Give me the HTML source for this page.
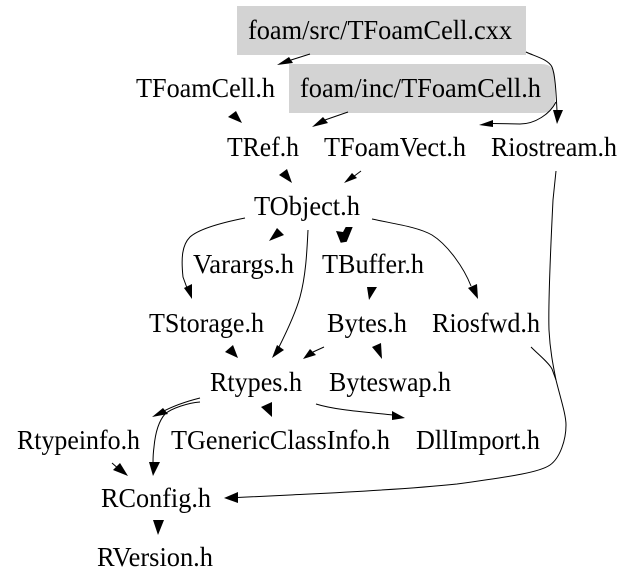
<!DOCTYPE html>
<html>
<head>
<meta charset="utf-8">
<style>
html,body{margin:0;padding:0;background:#fff;}
svg{display:block;}
text{font-family:"Liberation Serif",serif;font-size:27px;fill:#000;}
path{fill:none;stroke:#000;stroke-width:1;}
polygon{fill:#000;stroke:none;}
</style>
</head>
<body>
<svg width="637" height="587" viewBox="0 0 637 587" xmlns="http://www.w3.org/2000/svg">
<rect x="0" y="0" width="637" height="587" fill="#fff"/>
<rect x="237" y="6" width="289" height="49" fill="#d3d3d3"/>
<path d="M289 64H541Q555 64 555 78V99Q555 113 541 113H289Z" style="fill:#d3d3d3;stroke:none"/>

<text x="248" y="39" textLength="264" lengthAdjust="spacingAndGlyphs">foam/src/TFoamCell.cxx</text>
<text x="300" y="97" textLength="241" lengthAdjust="spacingAndGlyphs">foam/inc/TFoamCell.h</text>
<text x="136" y="97" textLength="139" lengthAdjust="spacingAndGlyphs">TFoamCell.h</text>
<text x="227" y="156" textLength="72" lengthAdjust="spacingAndGlyphs">TRef.h</text>
<text x="324" y="156" textLength="142" lengthAdjust="spacingAndGlyphs">TFoamVect.h</text>
<text x="491" y="156" textLength="126" lengthAdjust="spacingAndGlyphs">Riostream.h</text>
<text x="254" y="215" textLength="106" lengthAdjust="spacingAndGlyphs">TObject.h</text>
<text x="193" y="273" textLength="101" lengthAdjust="spacingAndGlyphs">Varargs.h</text>
<text x="322" y="273" textLength="102" lengthAdjust="spacingAndGlyphs">TBuffer.h</text>
<text x="149" y="332" textLength="115" lengthAdjust="spacingAndGlyphs">TStorage.h</text>
<text x="327" y="332" textLength="80" lengthAdjust="spacingAndGlyphs">Bytes.h</text>
<text x="432" y="332" textLength="108" lengthAdjust="spacingAndGlyphs">Riosfwd.h</text>
<text x="210" y="391" textLength="92" lengthAdjust="spacingAndGlyphs">Rtypes.h</text>
<text x="329" y="391" textLength="122" lengthAdjust="spacingAndGlyphs">Byteswap.h</text>
<text x="17" y="449" textLength="123" lengthAdjust="spacingAndGlyphs">Rtypeinfo.h</text>
<text x="171" y="449" textLength="219" lengthAdjust="spacingAndGlyphs">TGenericClassInfo.h</text>
<text x="416" y="449" textLength="124" lengthAdjust="spacingAndGlyphs">DllImport.h</text>
<text x="101" y="507" textLength="110" lengthAdjust="spacingAndGlyphs">RConfig.h</text>
<text x="97" y="566" textLength="116" lengthAdjust="spacingAndGlyphs">RVersion.h</text>

<!-- top edges -->
<path d="M310 54L291 60"/>
<polygon points="277,65 289,57 293,63"/>
<path d="M526 52C534 56 548 59 552 67C555 74 556 90 557 111"/>
<polygon points="553,110 563,110 557,124"/>
<path d="M348 112L322 121"/>
<polygon points="312,127 323,117 328,123"/>
<path d="M556 102C550 114 535 124 520 124L492 123.5"/>
<polygon points="479,125 493,120 493,127"/>
<polygon points="242,123 228,117 236,111"/>
<polygon points="292,183 279,175 287,169"/>
<path d="M361 171L353 177"/>
<polygon points="344,183 352,173 357,178"/>

<!-- TObject edges -->
<path d="M245 218C225 222 200 228 190 237C182 245 181 258 183 277L187 288"/>
<polygon points="192,299 184,288 192,284"/>
<polygon points="269,241 277,228 284,235"/>
<path d="M308 230C307 250 306 275 300 297C295 315 285 335 279 347"/>
<polygon points="272,358 277,345 284,350"/>
<polygon points="336,231 343,232 345.700,227 352.700,227 346.700,241.700 340.700,242.700"/>
<path d="M372 219C395 224 418 227 432 235C448 245 464 268 471 286"/>
<polygon points="478,299 468,288 477,284"/>
<polygon points="369,300 367,287 377,287"/>

<!-- middle edges -->
<polygon points="238,358 225,352 233,345"/>
<path d="M324 347L313 352"/>
<polygon points="303,359 310,349 316,355"/>
<polygon points="382,359 372,347 381,343"/>

<!-- Rtypes edges -->
<path d="M200 398C188 401 175 405 162 412"/>
<polygon points="152,417 163,408 168,414"/>
<path d="M200 402C188 403 172 408 165 414C158 422 155 436 154 447C153 454 153 458 153 463"/>
<polygon points="149,462 160,462 153,476"/>
<polygon points="272,417 261,407 272,402"/>
<path d="M316 404C335 410 365 412 393 415"/>
<polygon points="392,411 392,420 405,418"/>

<!-- bottom edges -->
<path d="M112 463L120 470"/>
<polygon points="128,476 113,470 120,463"/>
<polygon points="158,535 153,520 164,520"/>

<!-- Riostream / Riosfwd to RConfig -->
<path d="M556 171L553 200C551 240 548 300 549 330C550 350 553 365 556 380C561 400 566 415 566 425C566 440 560 458 550 465C540 472 515 476 457 484C400 490 330 493 290 495L237 497.500"/>
<path d="M531 347C540 356 549 363 552 369L556 380"/>
<polygon points="224,498 238,492 238,503"/>
</svg>
</body>
</html>
